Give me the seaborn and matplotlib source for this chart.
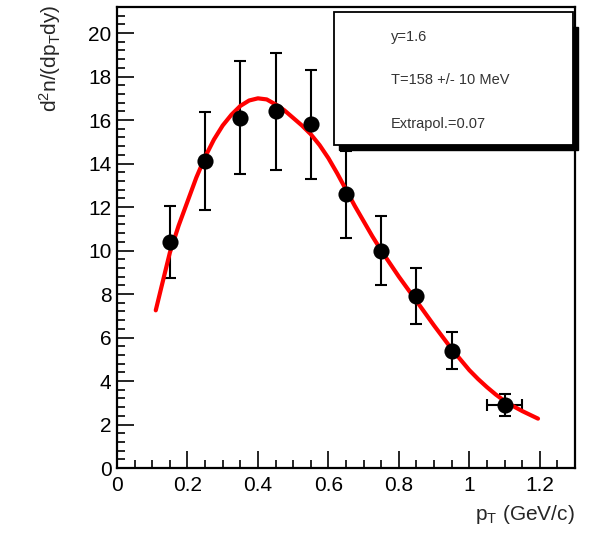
import matplotlib
matplotlib.use("Agg")
import matplotlib.pyplot as plt
import seaborn as sns
import pandas as pd
from matplotlib.ticker import MultipleLocator
from matplotlib.patches import Rectangle

# ---- data ----
pt = [0.15, 0.25, 0.35, 0.45, 0.55, 0.65, 0.75, 0.85, 0.95, 1.10]
yield_ = [10.4, 14.1, 16.1, 16.4, 15.8, 12.6, 10.0, 7.9, 5.4, 2.9]
yerr = [1.65, 2.25, 2.6, 2.7, 2.5, 2.0, 1.6, 1.3, 0.87, 0.5]
xerr = [0, 0, 0, 0, 0, 0, 0, 0, 0, 0.05]

fit_x = [0.11, 0.125, 0.15, 0.175, 0.20, 0.225, 0.25, 0.275, 0.30, 0.325, 0.35,
         0.375, 0.40, 0.425, 0.45, 0.475, 0.50, 0.525, 0.55, 0.575, 0.60, 0.625,
         0.65, 0.675, 0.70, 0.725, 0.75, 0.80, 0.85, 0.90, 0.95, 1.00, 1.025,
         1.05, 1.075, 1.10, 1.125, 1.15, 1.195]
fit_y = [7.25, 8.25, 9.9, 11.15, 12.25, 13.35, 14.3, 15.1, 15.75, 16.25, 16.65,
         16.9, 17.0, 16.95, 16.72, 16.45, 16.1, 15.75, 15.35, 14.85, 14.25, 13.55,
         12.8, 12.05, 11.35, 10.65, 10.0, 8.8, 7.68, 6.55, 5.47, 4.5, 4.09,
         3.72, 3.38, 3.08, 2.84, 2.62, 2.27]

legend_lines = ["y=1.6", "T=158 +/- 10 MeV", "Extrapol.=0.07"]

sns.set_style("ticks")
plt.rcParams['font.family'] = ['Liberation Sans', 'DejaVu Sans']
plt.rcParams['mathtext.default'] = 'regular'

fig = plt.figure(figsize=(5.95, 5.36), dpi=100)
ax = fig.add_axes([117/595, 1-468/536, (575-117)/595, (468-7)/536])

df_fit = pd.DataFrame({"x": fit_x, "y": fit_y})
df_pts = pd.DataFrame({"x": pt, "y": yield_})

sns.lineplot(data=df_fit, x="x", y="y", ax=ax, color="red", linewidth=3.0,
             sort=False, zorder=3)
ax.errorbar(pt, yield_, yerr=yerr, xerr=xerr, fmt="none", ecolor="black",
            elinewidth=1.5, capsize=4.5, capthick=1.5, zorder=2)
sns.scatterplot(data=df_pts, x="x", y="y", ax=ax, color="black", s=135,
                edgecolor="black", linewidth=0, zorder=4)

ax.set_xlim(0, 1.3)
ax.set_ylim(0, 21.2)
ax.xaxis.set_major_locator(MultipleLocator(0.2))
ax.xaxis.set_minor_locator(MultipleLocator(0.05))
ax.yaxis.set_major_locator(MultipleLocator(2))
ax.yaxis.set_minor_locator(MultipleLocator(0.4))
ax.tick_params(which="both", direction="in", top=False, right=False, width=1.2,
               labelsize=15, colors="black")
ax.tick_params(which="major", length=12)
ax.tick_params(which="minor", length=6)
ax.tick_params(axis="x", pad=6)
ax.tick_params(axis="y", pad=4)
ax.set_xticks([0, 0.2, 0.4, 0.6, 0.8, 1.0, 1.2])
ax.set_xticklabels(["0", "0.2", "0.4", "0.6", "0.8", "1", "1.2"])
for s in ax.spines.values():
    s.set_linewidth(1.6)
    s.set_color("black")

ax.set_xlabel("")
ax.set_ylabel("")
fig.text(575/595, 1-515/536, "p$_T$ (GeV/c)", ha="right", va="center", fontsize=15)
fig.text(50/595, 1-5/536, "d$^2$n/(dp$_T$dy)", ha="center", va="top",
         rotation=90, fontsize=15)

# stats-style box with shadow
bx0, by0, bx1, by1 = 334, 145, 573, 12  # pixel coords
def fx(px): return px/595
def fy(py): return 1-py/536
fig.patches.append(Rectangle((fx(bx0+5), fy(by0+5)), fx(bx1)-fx(bx0), fy(by1+10)-fy(by0),
                             transform=fig.transFigure, facecolor="black",
                             edgecolor="black", zorder=5))
fig.patches.append(Rectangle((fx(bx0), fy(by0)), fx(bx1)-fx(bx0), fy(by1)-fy(by0),
                             transform=fig.transFigure, facecolor="white",
                             edgecolor="black", linewidth=1.3, zorder=6))
for txt, py in zip(legend_lines, [37, 80, 124]):
    t = fig.text(fx(391), fy(py), txt, ha="left", va="center", fontsize=10.5,
                 color="#333333")
    t.set_zorder(7)

fig.savefig("out.png", dpi=100)
